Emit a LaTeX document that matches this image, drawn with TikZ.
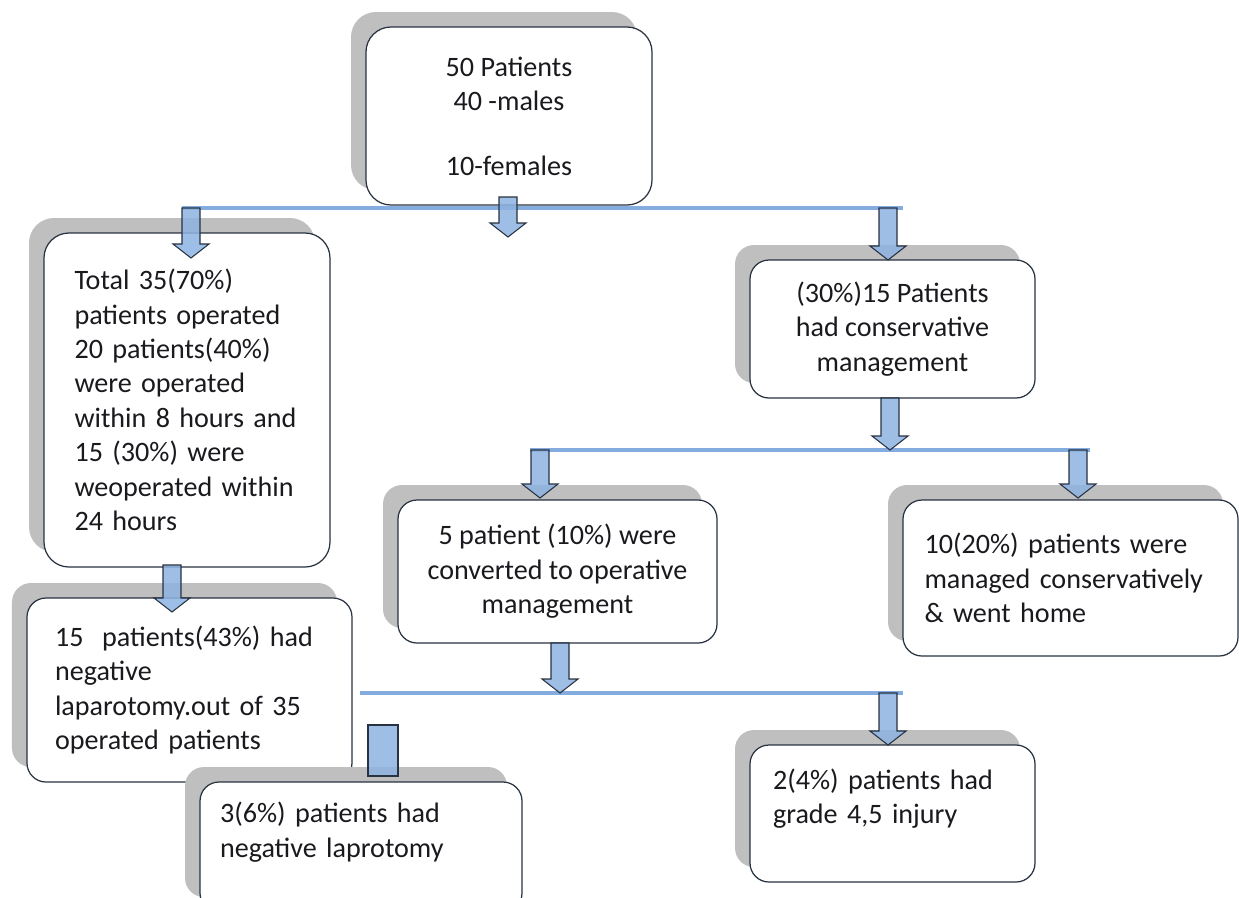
\documentclass[tikz,border=0pt]{standalone}
\usepackage{fontspec}
\setmainfont{Carlito}
\usetikzlibrary{shadows,calc}
\definecolor{mLine}{RGB}{132,172,222}
\definecolor{mFill}{RGB}{141,179,226}
\definecolor{mEdge}{RGB}{40,50,65}
\definecolor{mShade}{RGB}{191,191,191}
\definecolor{mText}{RGB}{25,25,30}

% block arrow pointing down from #1 to #2
\newcommand{\blkarrow}[2]{%
  \draw[blk] ([xshift=-0.18cm]#1) -- ([xshift=-0.18cm,yshift=0.28cm]#2)
    -- ([xshift=-0.36cm,yshift=0.28cm]#2) -- (#2)
    -- ([xshift=0.36cm,yshift=0.28cm]#2) -- ([xshift=0.18cm,yshift=0.28cm]#2)
    -- ([xshift=0.18cm]#1) -- cycle;}

\begin{document}
\begin{tikzpicture}[
    box/.style={draw=mEdge, fill=white, line width=0.7pt, rounded corners=0.5cm,
      general shadow={fill=mShade, shadow xshift=-0.3cm, shadow yshift=0.3cm},
      inner sep=0.1cm, text=mText, font=\fontsize{16}{19.6}\selectfont},
    sbox/.style={box, rounded corners=0.38cm},
    blk/.style={draw=mEdge, fill=mFill, fill opacity=0.85, line width=0.6pt},
    bar/.style={mLine, line width=2.2pt}
]
  \useasboundingbox (0,0) rectangle (24.78,-17.94);

  % boxes
  \node[box, minimum width=5.72cm, minimum height=3.56cm, align=center] (total) at (10.18,-2.32)
    {50 Patients\\40 -males\\[0.6cm]10-females};
  \node[box, minimum width=5.72cm, minimum height=6.68cm, text width=4.5cm, align=left] (oper) at (3.74,-8.0)
    {Total 35(70\%)\\patients operated\\20 patients(40\%)\\were operated\\within 8 hours and\\15 (30\%) were\\weoperated within\\24 hours};
  \node[sbox, minimum width=5.7cm, minimum height=2.76cm, align=center] (cons) at (17.85,-6.58)
    {(30\%)15 Patients\\had conservative\\management};
  \node[sbox, minimum width=6.38cm, minimum height=2.86cm, align=center] (conv) at (11.15,-11.43)
    {5 patient (10\%) were\\converted to operative\\management};
  \node[sbox, minimum width=6.7cm, minimum height=3.12cm, text width=5.84cm, align=left] (home) at (21.41,-11.56)
    {10(20\%) patients were\\managed conservatively\\\& went home};
  \node[sbox, minimum width=6.5cm, minimum height=3.68cm, text width=5.38cm, align=left] (neglap) at (3.79,-13.8)
    {15\ \ patients(43\%) had\\negative\\laparotomy.out of 35\\operated patients};
  \node[sbox, minimum width=6.44cm, minimum height=2.6cm, text width=5.64cm, align=left] (negsub) at (7.22,-16.94)
    {3(6\%) patients had\\negative laprotomy\\\mbox{}};
  \node[sbox, minimum width=5.7cm, minimum height=2.74cm, text width=4.78cm, align=left] (grade) at (17.85,-16.27)
    {2(4\%) patients had\\grade 4,5 injury\\\mbox{}};

  % branch lines
  \coordinate (l1a) at (3.64,-4.16);  \coordinate (l1b) at (18.06,-4.16);
  \coordinate (l2a) at (10.6,-9.0);   \coordinate (l2b) at (21.8,-9.0);
  \coordinate (l3a) at (7.2,-13.86);  \coordinate (l3b) at (18.06,-13.86);
  \draw[bar] (l1a) -- (l1b);
  \draw[bar] (l2a) -- (l2b);
  \draw[bar] (l3a) -- (l3b);

  % arrows
  \coordinate (a1s) at (3.82,-4.16);  \coordinate (a1e) at (3.82,-5.16);
  \coordinate (a2s) at (10.16,-3.94); \coordinate (a2e) at (10.16,-4.74);
  \coordinate (a3s) at (17.76,-4.16); \coordinate (a3e) at (17.76,-5.2);
  \coordinate (a4s) at (17.8,-7.96);  \coordinate (a4e) at (17.8,-9.0);
  \coordinate (a5s) at (10.8,-9.0);   \coordinate (a5e) at (10.8,-9.96);
  \coordinate (a6s) at (21.56,-9.0);  \coordinate (a6e) at (21.56,-9.96);
  \coordinate (a7s) at (3.44,-11.3);  \coordinate (a7e) at (3.44,-12.24);
  \coordinate (a8s) at (11.2,-12.86); \coordinate (a8e) at (11.2,-13.86);
  \coordinate (a9s) at (17.76,-13.86); \coordinate (a9e) at (17.76,-14.9);
  \blkarrow{a1s}{a1e}
  \blkarrow{a2s}{a2e}
  \blkarrow{a3s}{a3e}
  \blkarrow{a4s}{a4e}
  \blkarrow{a5s}{a5e}
  \blkarrow{a6s}{a6e}
  \blkarrow{a7s}{a7e}
  \blkarrow{a8s}{a8e}
  \blkarrow{a9s}{a9e}

  \coordinate (r1) at (7.36,-14.5);   \coordinate (r2) at (7.96,-15.52);
  \draw[blk] (r1) rectangle (r2);
\end{tikzpicture}
\end{document}
